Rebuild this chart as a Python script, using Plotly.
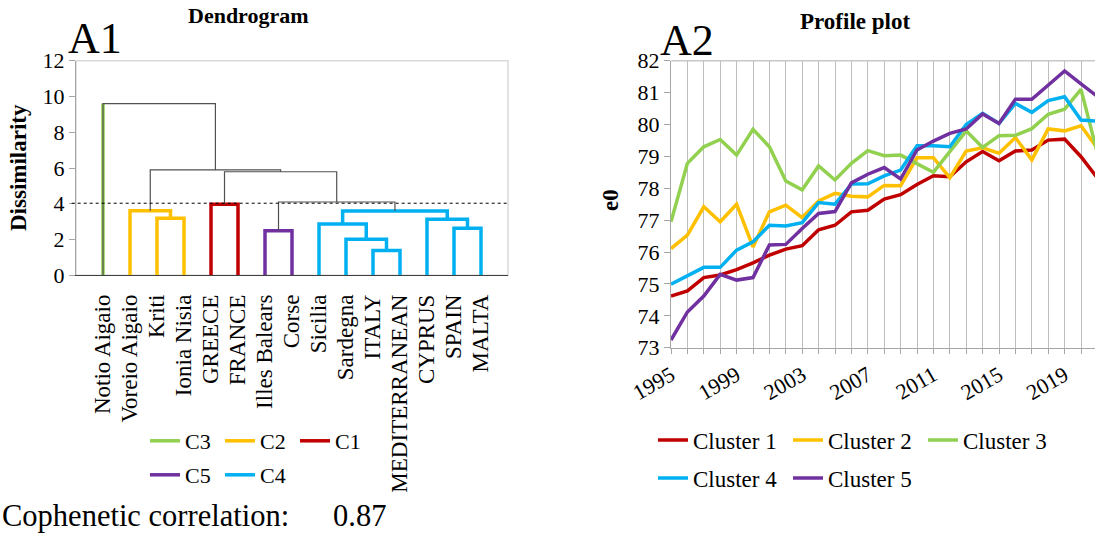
import plotly.graph_objects as go

# ---------------- Dendrogram data ----------------
leaves = ["Notio Aigaio", "Voreio Aigaio", "Kriti", "Ionia Nisia", "GREECE", "FRANCE",
          "Illes Balears", "Corse", "Sicilia", "Sardegna", "ITALY", "MEDITERRANEAN",
          "CYPRUS", "SPAIN", "MALTA"]
leaf_cluster = ["C3", "C2", "C2", "C2", "C1", "C1", "C5", "C5",
                "C4", "C4", "C4", "C4", "C4", "C4", "C4"]
# merges (scipy-like): new node ids start at 15
merge_left = [10, 9, 6, 13, 8, 12, 2, 19, 1, 4, 17, 24, 23, 0]
merge_right = [11, 15, 7, 14, 16, 18, 3, 20, 21, 5, 22, 25, 26, 27]
merge_height = [1.38, 2.01, 2.49, 2.63, 2.87, 3.13, 3.19, 3.59, 3.61, 3.97, 4.10, 5.79, 5.89, 9.60]
cut_height = 4.03
cophenetic = 0.87

cluster_colors = {"C1": "#C00000", "C2": "#FFC000", "C3": "#92D050", "C4": "#00B0F0", "C5": "#7030A0"}
legend_rows = [["C3", "C2", "C1"], ["C5", "C4"]]

# ---------------- Profile data ----------------
years = list(range(1995, 2022))
cluster1 = [74.62, 74.78, 75.20, 75.28, 75.45, 75.66, 75.90, 76.09, 76.20, 76.70, 76.84, 77.26, 77.31,
            77.66, 77.80, 78.12, 78.39, 78.36, 78.83, 79.15, 78.86, 79.17, 79.20, 79.51, 79.54, 78.99, 78.32]
cluster2 = [76.11, 76.53, 77.42, 76.95, 77.50, 76.16, 77.26, 77.47, 77.08, 77.60, 77.84, 77.75, 77.73,
            78.09, 78.08, 78.96, 78.96, 78.33, 79.17, 79.27, 79.10, 79.59, 78.89, 79.86, 79.80, 79.96, 79.25]
cluster3 = [76.95, 78.78, 79.30, 79.53, 79.04, 79.85, 79.30, 78.23, 77.95, 78.70, 78.26, 78.78, 79.18,
            79.02, 79.04, 78.78, 78.50, 79.15, 79.80, 79.28, 79.65, 79.66, 79.87, 80.32, 80.48, 81.10, 79.10]
cluster4 = [74.99, 75.25, 75.52, 75.52, 76.06, 76.32, 76.84, 76.82, 76.92, 77.55, 77.50, 78.13, 78.14,
            78.39, 78.57, 79.33, 79.33, 79.30, 80.00, 80.35, 80.03, 80.66, 80.38, 80.75, 80.87, 80.14, 80.10]
cluster5 = [73.24, 74.12, 74.62, 75.30, 75.12, 75.20, 76.22, 76.24, 76.74, 77.21, 77.27, 78.17, 78.44,
            78.65, 78.29, 79.20, 79.48, 79.72, 79.86, 80.33, 80.03, 80.79, 80.79, 81.24, 81.68, 81.27, 80.88]
profile_names = ["Cluster 1", "Cluster 2", "Cluster 3", "Cluster 4", "Cluster 5"]
profile_values = [cluster1, cluster2, cluster3, cluster4, cluster5]
profile_colors = ["#C00000", "#FFC000", "#92D050", "#00B0F0", "#7030A0"]
year_ticks = [1995, 1999, 2003, 2007, 2011, 2015, 2019]

FONT = "Liberation Serif"
W, H = 1095, 536

# ---------------- compute dendrogram geometry ----------------
n = len(leaves)
node_x = {i: i + 1 for i in range(n)}
node_h = {i: 0.0 for i in range(n)}
node_cl = {i: leaf_cluster[i] for i in range(n)}
seg = {c: ([], []) for c in cluster_colors}
grey = ([], [])
singleton = {c: ([], []) for c in cluster_colors}
for k, (a, b, h) in enumerate(zip(merge_left, merge_right, merge_height)):
    nid = n + k
    xa, xb = node_x[a], node_x[b]
    node_x[nid] = (xa + xb) / 2
    node_h[nid] = h
    same = node_cl[a] is not None and node_cl[a] == node_cl[b] and h < cut_height
    node_cl[nid] = node_cl[a] if same else None
    xs = [xa, xa, xb, xb, None]
    ys = [node_h[a], h, h, node_h[b], None]
    if same:
        seg[node_cl[a]][0].extend(xs)
        seg[node_cl[a]][1].extend(ys)
    else:
        grey[0].extend(xs)
        grey[1].extend(ys)
        for c in (a, b):
            if c < n:  # singleton cluster leg
                singleton[leaf_cluster[c]][0].extend([node_x[c], node_x[c], None])
                singleton[leaf_cluster[c]][1].extend([0, h, None])

fig = go.Figure()
legend_of = {}
for ri, row in enumerate(legend_rows):
    for c in row:
        legend_of[c] = "legend" if ri == 0 else "legend2"

order = [c for row in legend_rows for c in row]
for c in order:
    xs = seg[c][0] + singleton[c][0]
    ys = seg[c][1] + singleton[c][1]
    fig.add_trace(go.Scatter(x=xs, y=ys, mode="lines", name=c,
                             line=dict(color=cluster_colors[c], width=3.5),
                             legend=legend_of[c], xaxis="x", yaxis="y"))
fig.add_trace(go.Scatter(x=grey[0], y=grey[1], mode="lines", showlegend=False,
                         line=dict(color="#505050", width=1.2), xaxis="x", yaxis="y"))

# ---------------- profile traces ----------------
for i, (nm, vals, col) in enumerate(zip(profile_names, profile_values, profile_colors)):
    fig.add_trace(go.Scatter(x=years, y=vals, mode="lines", name=nm,
                             line=dict(color=col, width=3.5),
                             legend="legend3" if i < 3 else "legend4",
                             xaxis="x2", yaxis="y2"))

def px(x):
    return x / W

def py(y):
    return (H - y) / H

tickfont = dict(family=FONT, size=22, color="black")

fig.update_layout(
    width=W, height=H, margin=dict(l=0, r=0, t=0, b=0, autoexpand=False),
    plot_bgcolor="white", paper_bgcolor="white",
    font=dict(family=FONT, size=22, color="black"),
    xaxis=dict(domain=[px(76), px(508)], range=[0, 16], tickvals=[i + 1 for i in range(n)],
               ticktext=leaves, tickangle=-90, showgrid=False, zeroline=False,
               showline=True, linecolor="#404040", linewidth=1.2, ticks="",
               ticklabelstandoff=9, tickfont=dict(family=FONT, size=23, color="black"),
               anchor="y", automargin=False),
    yaxis=dict(domain=[py(275.3), py(60.7)], range=[0, 12], dtick=2, showgrid=False,
               zeroline=False, showline=True, linecolor="#A6A6A6", linewidth=1.2,
               ticks="outside", ticklen=6, tickcolor="#A6A6A6", tickfont=tickfont, anchor="x",
               automargin=False),
    xaxis2=dict(domain=[px(671), 1.0], range=[1995, 1995 + (1095 - 671) / 16.4],
                tickvals=year_ticks, tickangle=-30, showgrid=True, gridcolor="#BFBFBF",
                gridwidth=1.3, zeroline=False, showline=True, linecolor="#A6A6A6", linewidth=1.2,
                ticks="outside", ticklen=5, tickcolor="#A6A6A6", tickfont=tickfont,
                minor=dict(dtick=1, tick0=1995, showgrid=True, gridcolor="#BFBFBF", gridwidth=1.3,
                           ticks="outside", ticklen=5, tickcolor="#A6A6A6"),
                anchor="y2", automargin=False),
    yaxis2=dict(domain=[py(347.7), py(60.7)], range=[73, 82], dtick=1, showgrid=False,
                zeroline=False, showline=True, linecolor="#A6A6A6", linewidth=1.2,
                ticks="outside", ticklen=6, tickcolor="#A6A6A6", tickfont=tickfont, anchor="x2",
                automargin=False),
)

legfont = dict(family=FONT, size=22, color="black")
legfont2 = dict(family=FONT, size=23, color="black")
fig.update_layout(
    legend=dict(orientation="h", x=px(145), y=py(441), xanchor="left", yanchor="middle",
                font=legfont, entrywidth=30, bgcolor="rgba(0,0,0,0)", traceorder="normal"),
    legend2=dict(orientation="h", x=px(145), y=py(475), xanchor="left", yanchor="middle",
                 font=legfont, entrywidth=30, bgcolor="rgba(0,0,0,0)", traceorder="normal"),
    legend3=dict(orientation="h", x=px(653), y=py(440), xanchor="left", yanchor="middle",
                 font=legfont2, entrywidth=90, bgcolor="rgba(0,0,0,0)", traceorder="normal"),
    legend4=dict(orientation="h", x=px(653), y=py(478), xanchor="left", yanchor="middle",
                 font=legfont2, entrywidth=90, bgcolor="rgba(0,0,0,0)", traceorder="normal"),
)

# frame lines (top / right) and cut line
fig.add_shape(type="rect", xref="x domain", yref="y domain", x0=0, x1=1, y0=0, y1=1,
              line=dict(color="#D9D9D9", width=1.5), layer="below")
fig.add_shape(type="line", xref="x2 domain", yref="y2 domain", x0=0, x1=1, y0=1, y1=1,
              line=dict(color="#C8C8C8", width=1.5), layer="below")
fig.add_shape(type="line", xref="x domain", yref="y", x0=-0.01, x1=1, y0=cut_height, y1=cut_height,
              line=dict(color="black", width=1, dash="dot"))

annots = [
    dict(text="<b>Dendrogram</b>", x=px(248), y=py(16), font=dict(family=FONT, size=22)),
    dict(text="<b>Profile plot</b>", x=px(855), y=py(22), font=dict(family=FONT, size=23)),
    dict(text="A1", x=px(66), y=py(38), xanchor="left", font=dict(family=FONT, size=44)),
    dict(text="A2", x=px(658), y=py(40), xanchor="left", font=dict(family=FONT, size=44)),
    dict(text="<b>Dissimilarity</b>", x=px(18), y=py(168), textangle=-90, font=dict(family=FONT, size=23)),
    dict(text="<b>e0</b>", x=px(611), y=py(200), textangle=-90, font=dict(family=FONT, size=23)),
    dict(text="Cophenetic correlation:", x=px(0), y=py(516), xanchor="left", font=dict(family=FONT, size=30.5)),
    dict(text=f"{cophenetic:.2f}", x=px(331), y=py(516), xanchor="left", font=dict(family=FONT, size=30.5)),
]
for a in annots:
    a.setdefault("xanchor", "center")
    fig.add_annotation(xref="paper", yref="paper", showarrow=False, yanchor="middle", **a)

fig.write_html("out.html")
